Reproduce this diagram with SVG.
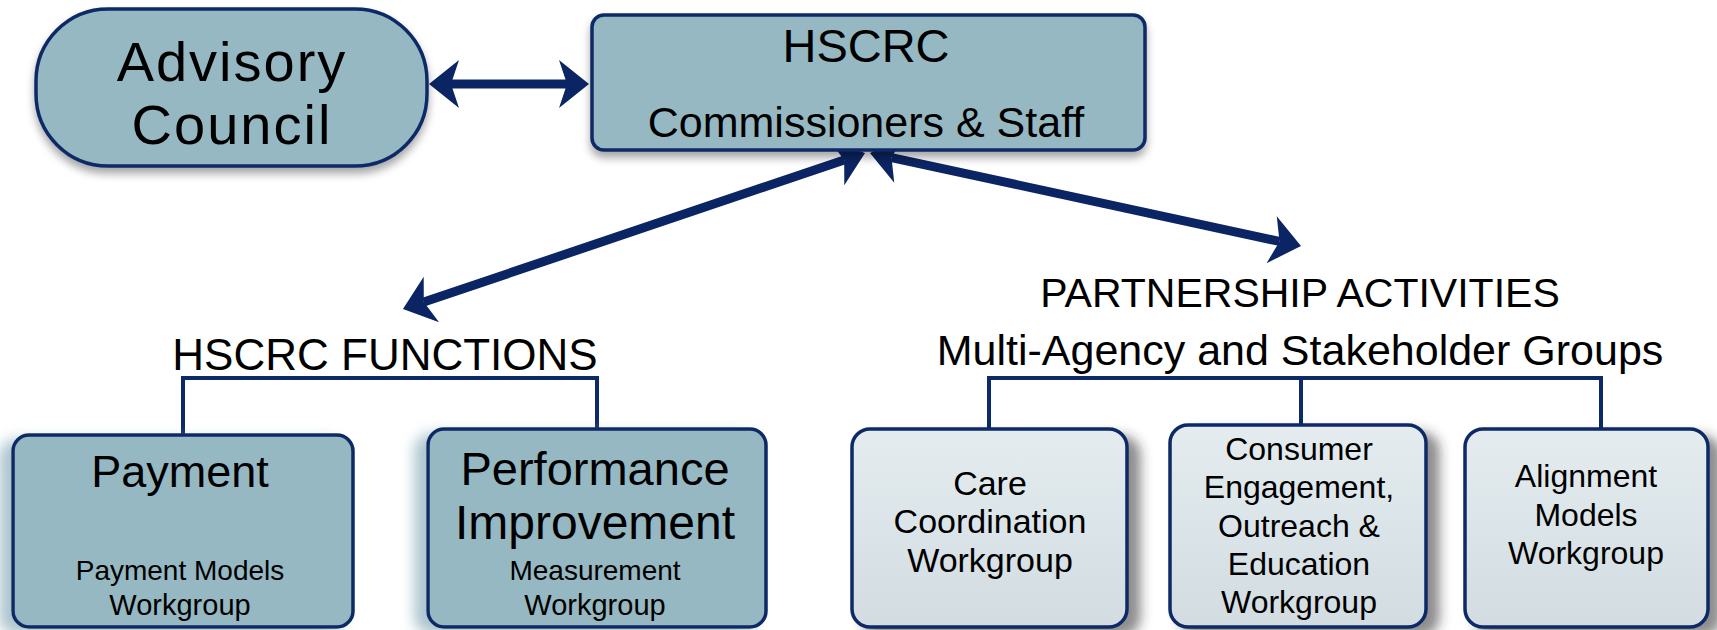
<svg xmlns="http://www.w3.org/2000/svg" width="1717" height="630" viewBox="0 0 1717 630">
  <defs>
    <style>
      text { font-family: "Liberation Sans", Arial, sans-serif; fill: #000; text-anchor: middle; }
      .dark { fill: #95b8c2; stroke: #0b2a66; stroke-width: 3.5; }
      .light { fill: url(#lightFill); stroke: #0b2a66; stroke-width: 3.5; }
      .arrow { fill: none; stroke: #0b2463; stroke-width: 9; }
      .bracket { fill: none; stroke: #0b2a66; stroke-width: 4; }
    </style>
    <linearGradient id="lightFill" x1="0" y1="0" x2="0" y2="1">
      <stop offset="0" stop-color="#e4ecef"/>
      <stop offset="1" stop-color="#d2dce1"/>
    </linearGradient>
    <filter id="shadowDown" x="-10%" y="-10%" width="120%" height="130%">
      <feDropShadow dx="0" dy="6" stdDeviation="4" flood-color="#000" flood-opacity="0.35"/>
    </filter>
    <filter id="shadowLeft" x="-15%" y="-15%" width="130%" height="130%">
      <feDropShadow dx="-12" dy="6" stdDeviation="7" flood-color="#8fb1bd" flood-opacity="0.75"/>
    </filter>
    <filter id="shadowRight" x="-15%" y="-15%" width="130%" height="130%">
      <feDropShadow dx="12" dy="8" stdDeviation="6" flood-color="#333" flood-opacity="0.55"/>
    </filter>
    <marker id="head" viewBox="-10 -26 34 52" refX="0" refY="0" markerWidth="34" markerHeight="52" markerUnits="userSpaceOnUse" orient="auto-start-reverse">
      <path d="M22,0 L-8,-24 L0,0 L-8,24 Z" fill="#0b2463"/>
    </marker>
  </defs>

  <!-- connectors -->
  <g id="connectors">
    <path class="arrow" d="M451,84 L567,84" marker-start="url(#head)" marker-end="url(#head)"/>
    <path class="arrow" d="M844.2,160 L423.8,302" marker-start="url(#head)" marker-end="url(#head)"/>
    <path class="arrow" d="M891.5,157.6 L1279.5,241.4" marker-start="url(#head)" marker-end="url(#head)"/>
    <path class="bracket" d="M183,435 L183,378 L597,378 L597,429"/>
    <path class="bracket" d="M989,429 L989,378 L1601,378 L1601,429 M1301,378 L1301,425"/>
  </g>

  <g id="advisory-council">
    <rect class="dark" x="36" y="9" width="391" height="157" rx="72" ry="72" filter="url(#shadowDown)"/>
    <text x="232" y="81" font-size="56" letter-spacing="2">Advisory</text>
    <text x="232" y="144" font-size="56" letter-spacing="2">Council</text>
  </g>

  <g id="hscrc">
    <rect class="dark" x="592" y="15" width="553" height="135" rx="12" ry="12" filter="url(#shadowDown)"/>
    <text x="866" y="62" font-size="47">HSCRC</text>
    <text x="866" y="137" font-size="43">Commissioners &amp; Staff</text>
  </g>

  <g id="hscrc-functions">
    <text x="385" y="370" font-size="44">HSCRC FUNCTIONS</text>
  </g>

  <g id="partnership-activities">
    <text x="1300" y="307" font-size="41">PARTNERSHIP ACTIVITIES</text>
    <text x="1300" y="365" font-size="43">Multi-Agency and Stakeholder Groups</text>
  </g>

  <g id="payment">
    <rect class="dark" x="13" y="435" width="340" height="192" rx="16" ry="16" filter="url(#shadowLeft)"/>
    <text x="180" y="487" font-size="45">Payment</text>
    <text x="180" y="580" font-size="28">Payment Models</text>
    <text x="180" y="615" font-size="29">Workgroup</text>
  </g>

  <g id="performance-improvement">
    <rect class="dark" x="428" y="429" width="338" height="198" rx="16" ry="16" filter="url(#shadowLeft)"/>
    <text x="595" y="485" font-size="47">Performance</text>
    <text x="595" y="539" font-size="48">Improvement</text>
    <text x="595" y="580" font-size="28">Measurement</text>
    <text x="595" y="615" font-size="29">Workgroup</text>
  </g>

  <g id="care-coordination">
    <rect class="light" x="852" y="429" width="275" height="198" rx="18" ry="18" filter="url(#shadowRight)"/>
    <text x="990" y="495" font-size="34">Care</text>
    <text x="990" y="533" font-size="34">Coordination</text>
    <text x="990" y="572" font-size="34">Workgroup</text>
  </g>

  <g id="consumer-engagement">
    <rect class="light" x="1170" y="425" width="256" height="202" rx="18" ry="18" filter="url(#shadowRight)"/>
    <text x="1299" y="460" font-size="32">Consumer</text>
    <text x="1299" y="498" font-size="32">Engagement,</text>
    <text x="1299" y="537" font-size="32">Outreach &amp;</text>
    <text x="1299" y="575" font-size="32">Education</text>
    <text x="1299" y="613" font-size="32">Workgroup</text>
  </g>

  <g id="alignment-models">
    <rect class="light" x="1465" y="429" width="243" height="198" rx="18" ry="18" filter="url(#shadowRight)"/>
    <text x="1586" y="487" font-size="32">Alignment</text>
    <text x="1586" y="526" font-size="32">Models</text>
    <text x="1586" y="564" font-size="32">Workgroup</text>
  </g>
</svg>
